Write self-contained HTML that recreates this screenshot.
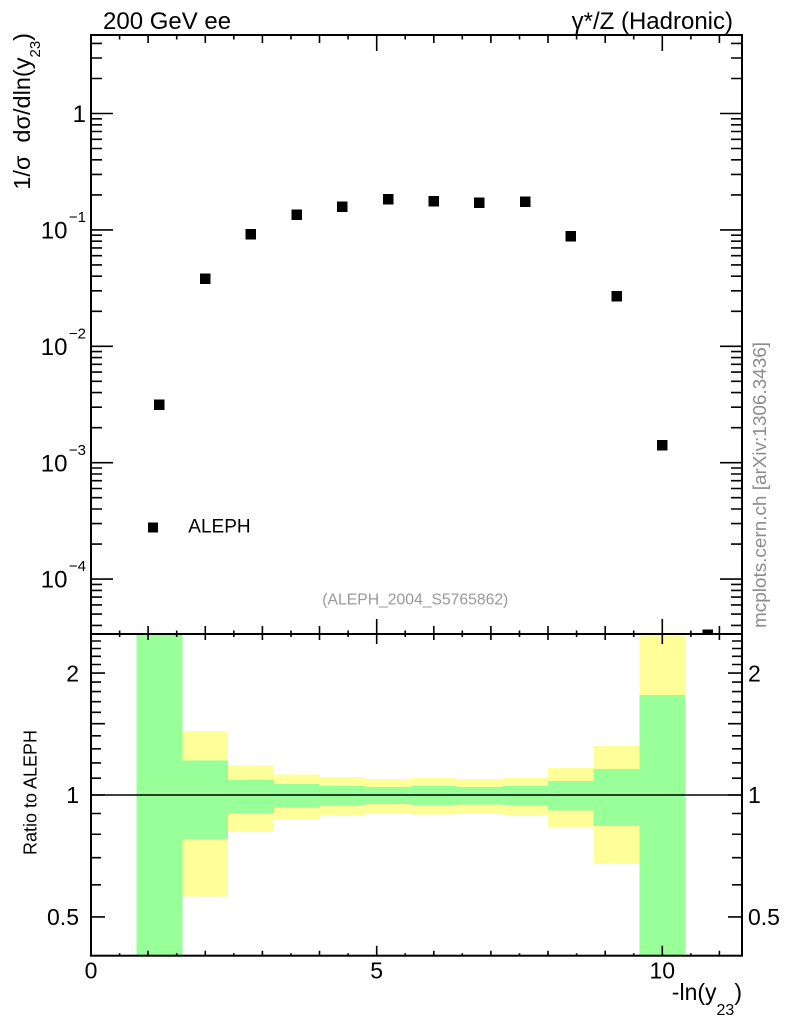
<!DOCTYPE html>
<html><head><meta charset="utf-8"><style>
html,body{margin:0;padding:0;background:#fff;}
svg{display:block;}
text{font-family:"Liberation Sans",Arial,sans-serif;}
</style></head><body>
<svg width="786" height="1024" viewBox="0 0 786 1024" xmlns="http://www.w3.org/2000/svg">
<rect x="0" y="0" width="786" height="1024" fill="#fff"/>

<!-- Ratio bands -->
<g shape-rendering="crispEdges">
<rect x="182.4" y="731" width="45.7" height="165.7" fill="#ffff99"/>
<rect x="228.1" y="765.7" width="45.7" height="65.3" fill="#ffff99"/>
<rect x="273.8" y="774.3" width="45.7" height="44.7" fill="#ffff99"/>
<rect x="319.5" y="777" width="45.7" height="38.7" fill="#ffff99"/>
<rect x="365.2" y="779" width="45.7" height="34.3" fill="#ffff99"/>
<rect x="410.9" y="778" width="45.7" height="36.3" fill="#ffff99"/>
<rect x="456.6" y="779" width="45.7" height="34.7" fill="#ffff99"/>
<rect x="502.3" y="778" width="45.7" height="37" fill="#ffff99"/>
<rect x="548" y="768" width="45.7" height="59" fill="#ffff99"/>
<rect x="593.7" y="746" width="45.7" height="117.7" fill="#ffff99"/>
<rect x="639.4" y="634" width="45.8" height="321.7" fill="#ffff99"/>
<rect x="136.7" y="634" width="45.7" height="321.7" fill="#99ff99"/>
<rect x="182.4" y="760.3" width="45.7" height="78.7" fill="#99ff99"/>
<rect x="228.1" y="780" width="45.7" height="33" fill="#99ff99"/>
<rect x="273.8" y="784" width="45.7" height="23.3" fill="#99ff99"/>
<rect x="319.5" y="786" width="45.7" height="19.3" fill="#99ff99"/>
<rect x="365.2" y="787" width="45.7" height="17" fill="#99ff99"/>
<rect x="410.9" y="786" width="45.7" height="19" fill="#99ff99"/>
<rect x="456.6" y="787" width="45.7" height="17.7" fill="#99ff99"/>
<rect x="502.3" y="786" width="45.7" height="19.3" fill="#99ff99"/>
<rect x="548" y="781" width="45.7" height="29.7" fill="#99ff99"/>
<rect x="593.7" y="769" width="45.7" height="57" fill="#99ff99"/>
<rect x="639.4" y="695" width="45.8" height="260.7" fill="#99ff99"/>
</g>

<line x1="91" y1="795" x2="742" y2="795" stroke="#000" stroke-width="1.5"/>

<g fill="#000" shape-rendering="crispEdges">
<rect x="154.1" y="399.7" width="10.5" height="10.5"/>
<rect x="200" y="273.7" width="10.5" height="10.5"/>
<rect x="245.7" y="229.2" width="10.5" height="10.5"/>
<rect x="291.4" y="209.7" width="10.5" height="10.5"/>
<rect x="337.1" y="201.4" width="10.5" height="10.5"/>
<rect x="382.8" y="194" width="10.5" height="10.5"/>
<rect x="428.5" y="196" width="10.5" height="10.5"/>
<rect x="474.2" y="197.4" width="10.5" height="10.5"/>
<rect x="519.9" y="196.7" width="10.5" height="10.5"/>
<rect x="565.6" y="231" width="10.5" height="10.5"/>
<rect x="611.3" y="291" width="10.5" height="10.5"/>
<rect x="657" y="440.2" width="10.5" height="10.5"/>
<rect x="702.7" y="629.5" width="10.5" height="4.5"/>
<rect x="148.2" y="522.5" width="10" height="10"/>
</g>

<g fill="none" stroke="#000" stroke-width="2">
<rect x="91" y="35" width="651" height="599"/>
<rect x="91" y="634" width="651" height="321.7"/>
</g>

<g stroke="#000" stroke-width="1.6" fill="none">
<path d="M119.6 35v4.5 M148.1 35v8 M176.7 35v4.5 M205.3 35v8 M233.8 35v4.5 M262.4 35v8 M291 35v4.5 M319.5 35v8 M348.1 35v4.5 M376.7 35v16 M405.2 35v4.5 M433.8 35v8 M462.3 35v4.5 M490.9 35v8 M519.5 35v4.5 M548 35v8 M576.6 35v4.5 M605.2 35v8 M633.7 35v4.5 M662.3 35v16 M690.9 35v4.5 M719.4 35v8"/>
<path d="M119.6 634v-3.5 M148.1 634v-8 M176.7 634v-3.5 M205.3 634v-8 M233.8 634v-3.5 M262.4 634v-8 M291 634v-3.5 M319.5 634v-8 M348.1 634v-3.5 M376.7 634v-15 M405.2 634v-3.5 M433.8 634v-8 M462.3 634v-3.5 M490.9 634v-8 M519.5 634v-3.5 M548 634v-8 M576.6 634v-3.5 M605.2 634v-8 M633.7 634v-3.5 M662.3 634v-15 M690.9 634v-3.5 M719.4 634v-8"/>
<path d="M119.6 634v3 M148.1 634v6 M176.7 634v3 M205.3 634v6 M233.8 634v3 M262.4 634v6 M291 634v3 M319.5 634v6 M348.1 634v3 M376.7 634v10 M405.2 634v3 M433.8 634v6 M462.3 634v3 M490.9 634v6 M519.5 634v3 M548 634v6 M576.6 634v3 M605.2 634v6 M633.7 634v3 M662.3 634v10 M690.9 634v3 M719.4 634v6"/>
<path d="M119.6 955.7v-2.5 M148.1 955.7v-5 M176.7 955.7v-2.5 M205.3 955.7v-5 M233.8 955.7v-2.5 M262.4 955.7v-5 M291 955.7v-2.5 M319.5 955.7v-5 M348.1 955.7v-2.5 M376.7 955.7v-10 M405.2 955.7v-2.5 M433.8 955.7v-5 M462.3 955.7v-2.5 M490.9 955.7v-5 M519.5 955.7v-2.5 M548 955.7v-5 M576.6 955.7v-2.5 M605.2 955.7v-5 M633.7 955.7v-2.5 M662.3 955.7v-10 M690.9 955.7v-2.5 M719.4 955.7v-5"/>
<path d="M91 113.5h22 M91 78.5h11 M91 58h11 M91 43.4h11
M91 229.9h22 M91 194.9h11 M91 174.4h11 M91 159.8h11 M91 148.5h11 M91 139.3h11 M91 131.5h11 M91 124.8h11 M91 118.8h11
M91 346.3h22 M91 311.3h11 M91 290.8h11 M91 276.2h11 M91 264.9h11 M91 255.7h11 M91 247.9h11 M91 241.2h11 M91 235.2h11
M91 462.7h22 M91 427.7h11 M91 407.2h11 M91 392.6h11 M91 381.3h11 M91 372.1h11 M91 364.3h11 M91 357.6h11 M91 351.6h11
M91 579.1h22 M91 544.1h11 M91 523.6h11 M91 509h11 M91 497.7h11 M91 488.5h11 M91 480.7h11 M91 474h11 M91 468h11
M91 625.4h11 M91 614.1h11 M91 604.9h11 M91 597.1h11 M91 590.4h11 M91 584.4h11"/>
<path d="M742 113.5h-22 M742 78.5h-11 M742 58h-11 M742 43.4h-11
M742 229.9h-22 M742 194.9h-11 M742 174.4h-11 M742 159.8h-11 M742 148.5h-11 M742 139.3h-11 M742 131.5h-11 M742 124.8h-11 M742 118.8h-11
M742 346.3h-22 M742 311.3h-11 M742 290.8h-11 M742 276.2h-11 M742 264.9h-11 M742 255.7h-11 M742 247.9h-11 M742 241.2h-11 M742 235.2h-11
M742 462.7h-22 M742 427.7h-11 M742 407.2h-11 M742 392.6h-11 M742 381.3h-11 M742 372.1h-11 M742 364.3h-11 M742 357.6h-11 M742 351.6h-11
M742 579.1h-22 M742 544.1h-11 M742 523.6h-11 M742 509h-11 M742 497.7h-11 M742 488.5h-11 M742 480.7h-11 M742 474h-11 M742 468h-11
M742 625.4h-11 M742 614.1h-11 M742 604.9h-11 M742 597.1h-11 M742 590.4h-11 M742 584.4h-11"/>
<path d="M91 916.9h14 M91 884.85h10 M91 857.7h10 M91 834.25h10 M91 813.5h10 M91 795h14 M91 778.2h10 M91 762.9h10 M91 748.85h10 M91 735.8h10 M91 723.7h14 M91 712.3h10 M91 701.7h10 M91 691.6h10 M91 682.1h10 M91 673.1h14 M91 664.5h10 M91 656.3h10 M91 648.5h10 M91 641h10"/>
<path d="M742 916.9h-14 M742 884.85h-10 M742 857.7h-10 M742 834.25h-10 M742 813.5h-10 M742 795h-14 M742 778.2h-10 M742 762.9h-10 M742 748.85h-10 M742 735.8h-10 M742 723.7h-14 M742 712.3h-10 M742 701.7h-10 M742 691.6h-10 M742 682.1h-10 M742 673.1h-14 M742 664.5h-10 M742 656.3h-10 M742 648.5h-10 M742 641h-10"/>
</g>

<text x="103" y="29" font-size="24" fill="#000">200 GeV ee</text>
<text x="733" y="29" font-size="24" fill="#000" text-anchor="end">γ*/Z (Hadronic)</text>

<g font-size="24" fill="#000">
<text x="86" y="122" text-anchor="end">1</text>
<text x="67.5" y="238.5" text-anchor="end">10</text><text x="86" y="222" font-size="15" text-anchor="end">−1</text>
<text x="67.5" y="354.9" text-anchor="end">10</text><text x="86" y="338.4" font-size="15" text-anchor="end">−2</text>
<text x="67.5" y="471.3" text-anchor="end">10</text><text x="86" y="454.8" font-size="15" text-anchor="end">−3</text>
<text x="67.5" y="587.7" text-anchor="end">10</text><text x="86" y="571.2" font-size="15" text-anchor="end">−4</text>
</g>

<text transform="translate(30,33) rotate(-90)" font-size="23.5" fill="#000" text-anchor="end">1/σ<tspan dx="13">dσ/dln(y</tspan><tspan font-size="15" dy="10">23</tspan><tspan dy="-10">)</tspan></text>

<text x="188.3" y="532.5" font-size="19" fill="#000">ALEPH</text>
<text x="322.3" y="604.5" font-size="15.7" fill="#999" textLength="186" lengthAdjust="spacingAndGlyphs">(ALEPH_2004_S5765862)</text>

<text transform="translate(766,628) rotate(-90)" font-size="18.9" fill="#8c8c8c" textLength="286" lengthAdjust="spacingAndGlyphs">mcplots.cern.ch [arXiv:1306.3436]</text>

<g font-size="23" fill="#000">
<text x="79" y="681.3" text-anchor="end">2</text>
<text x="79" y="803.2" text-anchor="end">1</text>
<text x="79" y="925.1" text-anchor="end">0.5</text>
<text x="748" y="681.3">2</text>
<text x="748" y="803.2">1</text>
<text x="748" y="925.1">0.5</text>
</g>
<text transform="translate(36.5,792.5) rotate(-90)" font-size="18" fill="#000" text-anchor="middle">Ratio to ALEPH</text>

<g font-size="23" fill="#000" text-anchor="middle">
<text x="91" y="978.5">0</text>
<text x="376.7" y="978.5">5</text>
<text x="662.3" y="978.5">10</text>
</g>
<text x="742" y="1000" font-size="23" fill="#000" text-anchor="end">-ln(y<tspan font-size="16" dy="15">23</tspan><tspan dy="-15">)</tspan></text>
</svg>
</body></html>
